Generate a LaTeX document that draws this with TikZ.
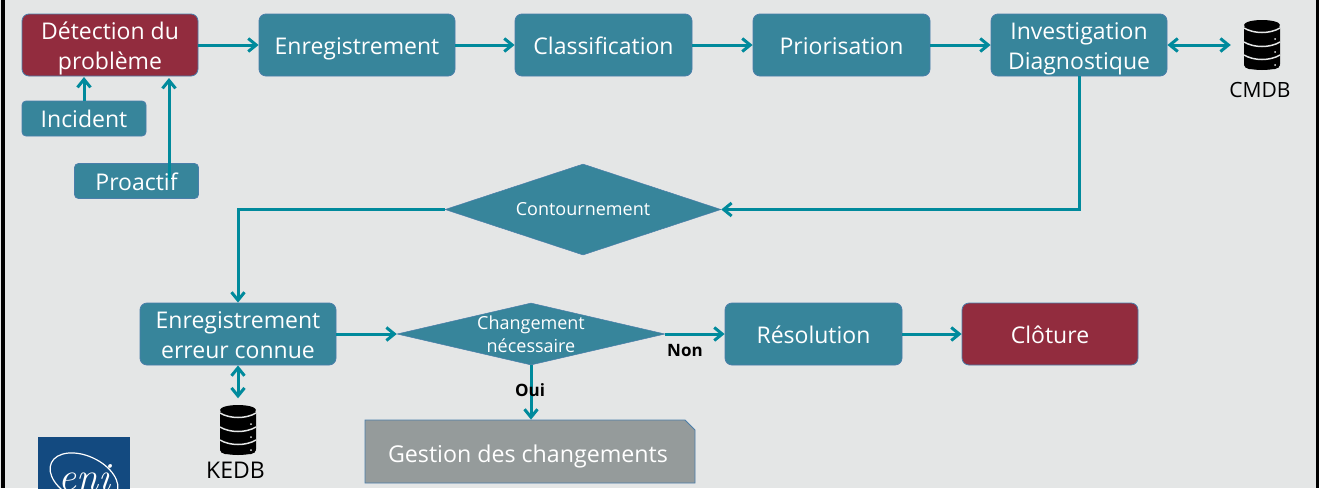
\documentclass[tikz,border=0pt]{standalone}
\usepackage{fontspec}
\setmainfont{Open Sans}
\usetikzlibrary{arrows.meta,shapes.geometric,shapes.misc}
\definecolor{fondgris}{HTML}{E4E6E6}
\definecolor{petrole}{HTML}{37859B}
\definecolor{bordeaux}{HTML}{922C3E}
\definecolor{bordbleu}{HTML}{4A7EAA}
\definecolor{fleche}{HTML}{008A9C}
\definecolor{grisbox}{HTML}{959B9B}
\definecolor{bleueni}{HTML}{134A80}
\newcommand{\ap}{\rule[-6pt]{0pt}{30pt}}
\newcommand{\dbicon}[2]{%
 \fill[black,rounded corners=5pt] (#1-18,#2-22) rectangle (#1+18,#2+24);
 \fill[black] (#1,#2-20) ellipse (18 and 5);
 \fill[black] (#1,#2+20) ellipse (18 and 5);
 \draw[fondgris,line width=1.5pt] (#1-18,#2-17) .. controls (#1-8,#2-11) and (#1+8,#2-11) .. (#1+18,#2-17);
 \draw[fondgris,line width=1.5pt] (#1-18,#2-3) .. controls (#1-8,#2+3) and (#1+8,#2+3) .. (#1+18,#2-3);
 \draw[fondgris,line width=1.5pt] (#1-18,#2+10) .. controls (#1-8,#2+16) and (#1+8,#2+16) .. (#1+18,#2+10);
 \foreach \dy in {-6,7,20} \fill[fondgris] (#1+13,#2+\dy) circle (1);
}
\begin{document}
\begin{tikzpicture}[x=1pt,y=-1pt,>={Straight Barb[length=8pt,width=13pt]},
 t/.style={draw=bordbleu,fill=petrole,text=white,rounded corners=7pt,line width=.8pt,
  minimum height=62pt,minimum width=177pt,inner sep=0pt,align=center,
  font=\fontsize{23}{30}\selectfont},
 petit/.style={t,rounded corners=4pt,minimum width=124pt,minimum height=35pt},
 fin/.style={t,fill=bordeaux},
 losange/.style={diamond,fill=petrole,draw=bordbleu,line width=.5pt,text=white,inner sep=0pt,align=center},
 lien/.style={draw=fleche,line width=3pt},
 etiq/.style={font=\bfseries\fontsize{17}{18}\selectfont}]
 \clip (0,0) rectangle (1319,488);
 \fill[fondgris] (0,0) rectangle (1319,488);
 \fill[black] (1,0) rectangle (5,488);
 \fill[black] (1316,0) rectangle (1319,488);
 % ligne du haut
 \node[fin,minimum width=176pt] (detect) at (110,45) {\ap Détection du\\\ap problème};
 \node[t,minimum width=196pt] (enreg) at (357,45) {\ap Enregistrement};
 \node[t] (classif) at (603.5,45) {\ap Classification};
 \node[t] (prio) at (841.5,45) {\ap Priorisation};
 \node[t,minimum width=176pt] (invest) at (1079,45) {\ap Investigation\\\ap Diagnostique};
 \node[petit] (incid) at (84,118.5) {\ap Incident};
 \node[petit] (proact) at (136.5,181) {\ap Proactif};
 % ligne du milieu
 \node[losange,aspect=3.03,minimum width=276pt,minimum height=91pt,font=\fontsize{18}{20}\selectfont] (contour) at (583,209.5) {Contournement};
 % ligne du bas
 \node[t,minimum width=196pt] (erreur) at (238,334) {\ap Enregistrement\\\ap erreur connue};
 \node[losange,aspect=4.32,minimum width=268pt,minimum height=62pt] (chgt) at (531,334) {};
 \node[text=white,align=center,font=\fontsize{18}{23}\selectfont] (chgttxt) at (531,334.5) {Changement\\nécessaire};
 \node[t] (resol) at (813.5,334) {\ap Résolution};
 \node[fin,minimum width=176pt] (clot) at (1050,334) {\ap Clôture};
 \node[chamfered rectangle,chamfered rectangle corners=north east,chamfered rectangle xsep=10pt,chamfered rectangle ysep=10pt,
  draw=bordbleu,fill=grisbox,text=white,line width=.8pt,minimum width=330pt,minimum height=63pt,inner sep=0pt,
  font=\fontsize{23.2}{30}\selectfont] (gestion) at (530,451.5) {\hspace{-4pt}\raisebox{-10.5pt}[0pt][0pt]{Gestion des changements}};
 % bases
 \dbicon{1262}{45}
 \dbicon{238}{430}
 \node[minimum width=62pt,minimum height=50pt] (cmdbicon) at (1262,45) {};
 \node[minimum width=38pt,minimum height=63pt] (kedbicon) at (238,430) {};
 \node[font=\fontsize{21}{24}\selectfont] (cmdb) at (1260,90) {CMDB};
 \node[font=\fontsize{23}{24}\selectfont] (kedb) at (235.5,470) {KEDB};
 % logo
 \node[fill=bleueni,minimum width=92pt,minimum height=70pt,inner sep=0pt] (logo) at (84,472) {};
 \draw[white,line width=1.2pt,rotate around={-25:(84,478)}] (84,478) ellipse (36 and 22);
 \node[text=white,font=\fontfamily{lmr}\itshape\fontsize{40}{40}\selectfont] (eni) at (84,478) {eni};
 % liens
 \coordinate (p1) at (84,101);
 \coordinate (p2) at (84,77);
 \coordinate (p3) at (169,180);
 \coordinate (p4) at (169,78);
 \draw[lien,->] (detect.east)--(enreg.west);
 \draw[lien,->] (enreg.east)--(classif.west);
 \draw[lien,->] (classif.east)--(prio.west);
 \draw[lien,->] (prio.east)--(invest.west);
 \draw[lien,<->] (invest.east)--(cmdbicon.west);
 \draw[lien,->] (p1)--(p2);
 \draw[lien,->] (p3)--(p4);
 \draw[lien,->] (invest.south)|-(contour.east);
 \draw[lien,->] (contour.west)-|(erreur.north);
 \draw[lien,->] (erreur.east)--(chgt.west);
 \draw[lien,->] (chgt.east)--(resol.west);
 \draw[lien,->] (resol.east)--(clot.west);
 \draw[lien,->] (chgt.south)--(gestion.north-|chgt.south);
 \draw[lien,<->] (erreur.south)--(kedbicon.north);
 \node[etiq] (non) at (685,351) {Non};
 \node[etiq] (oui) at (530,390) {Oui};
\end{tikzpicture}
\end{document}
